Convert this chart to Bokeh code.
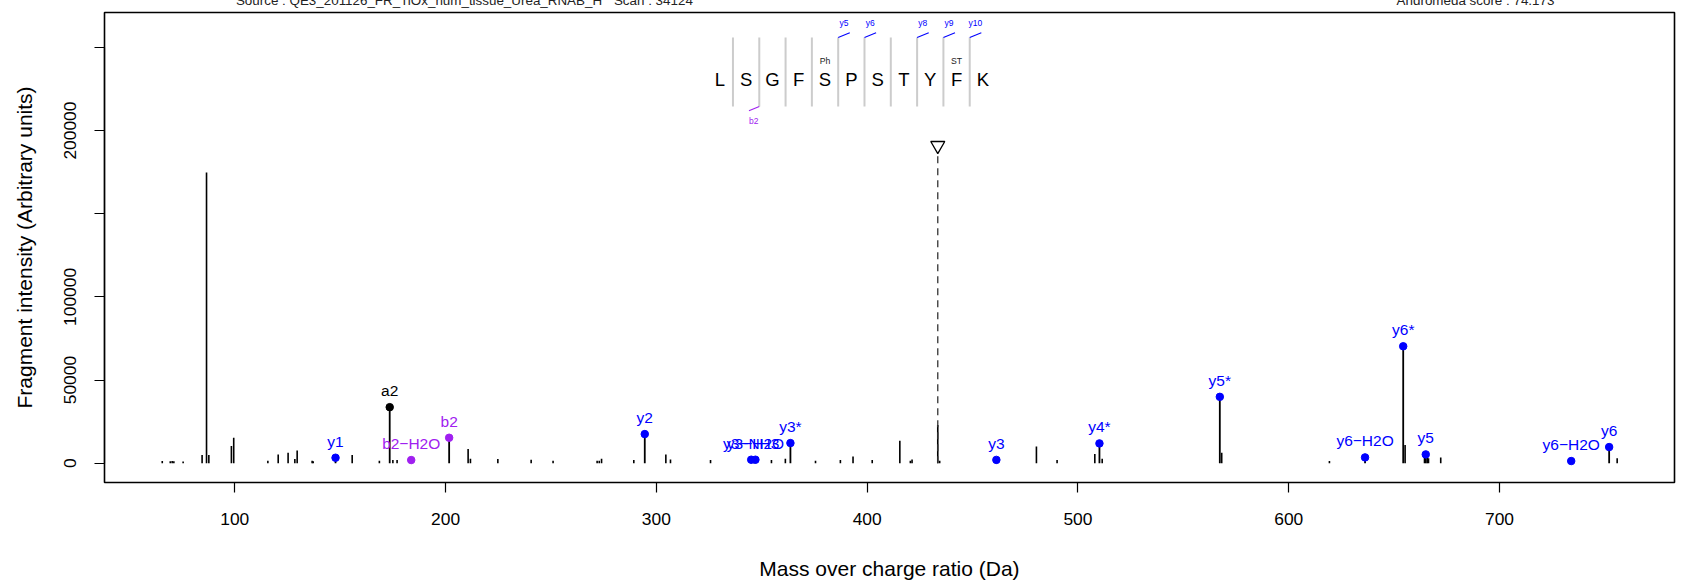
from bokeh.plotting import figure
from bokeh.models import Range1d, FixedTicker, LinearAxis, ColumnDataSource
from bokeh.core.properties import value
from bokeh.embed import file_html
from bokeh.resources import INLINE

# ---------------- data ----------------
# unannotated fragment peaks
peak_mz = [65.6, 69.4, 70.3, 71.1, 75.5, 84.5, 86.6, 87.7, 98.4, 99.5,
           115.7, 120.6, 125.3, 128.5, 129.6, 136.7, 137.2, 155.7, 168.6, 175.0,
           177.0, 210.7, 211.8, 224.8, 240.6, 251.0, 271.9, 272.9, 274.0, 289.3,
           304.5, 306.7, 325.7, 346.2, 354.6, 361.2, 375.5, 387.3, 393.3, 402.4,
           415.5, 420.5, 421.3, 433.5, 434.4, 480.3, 490.1, 508.0, 511.5, 568.2,
           619.3, 655.2, 664.4, 665.7, 666.3, 672.1, 755.8]
peak_int = [1300, 1200, 1300, 1200, 1000, 4900, 174800, 4900, 10300, 15300,
            1500, 5300, 6300, 2500, 7700, 1500, 1200, 4900, 1500, 1900,
            1900, 8500, 2700, 2500, 2100, 1500, 1500, 1500, 2700, 1900,
            5300, 2300, 1900, 2300, 1900, 2700, 1500, 1900, 4100, 1900,
            13500, 1500, 2300, 22900, 1500, 10100, 1900, 5500, 2700, 6300,
            1300, 10900, 4000, 3500, 3000, 3500, 3000]

# annotated fragment peaks
ann_label = ["y1", "a2", "b2\u2212H2O", "b2", "y2", "y3\u2212NH3", "y3\u2212H2O", "y3*",
             "y3", "y4*", "y5*", "y6\u2212H2O", "y6*", "y5", "y6\u2212H2O", "y6"]
ann_mz = [147.8, 173.5, 183.7, 201.7, 294.5, 345.0, 347.0, 363.6,
          461.3, 510.2, 567.3, 636.2, 654.3, 665.0, 734.0, 752.0]
ann_int = [3300, 33700, 1900, 15300, 17500, 2100, 2100, 12100,
           2000, 11900, 39900, 3500, 70300, 5300, 1300, 9700]
ann_type = ["y", "a", "b", "b", "y", "y", "y", "y",
            "y", "y", "y", "y", "y", "y", "y", "y"]

precursor_mz = 433.5
precursor_marker_int = 191000

sequence = ["L", "S", "G", "F", "S", "P", "S", "T", "Y", "F", "K"]
modifications = {4: "Ph", 9: "ST"}      # residue index -> label
y_cleavages = [5, 6, 8, 9, 10]           # separator index carrying y ions
b_cleavages = [2]

header_texts = ["Source : QE3_201126_FR_TiOx_hum_tissue_Urea_RNAB_H",
                "Scan : 34124",
                "Andromeda score : 74.173"]
header_pos = [187.4, 298.6, 688.6]   # text centres (Da)

x_ticks = [100, 200, 300, 400, 500, 600, 700]
y_ticks = [0, 50000, 100000, 150000, 200000, 250000]
y_tick_labels = ["0", "50000", "100000", "", "200000", ""]

# ---------------- styling ----------------
FONT = "Liberation Sans"
COL = {"y": "#0000FF", "b": "#A020F0", "a": "#000000"}

p = figure(width=1685, height=588, output_backend="svg", toolbar_location=None,
           x_range=Range1d(38.2, 783.0), y_range=Range1d(-11600, 271000),
           min_border_left=104, min_border_right=11, min_border_top=12,
           min_border_bottom=106)
p.background_fill_color = "white"
p.border_fill_color = "white"
p.outline_line_color = "black"
p.outline_line_width = 1.6
p.grid.visible = False

p.xaxis.ticker = FixedTicker(ticks=x_ticks)
p.yaxis.ticker = FixedTicker(ticks=y_ticks)
p.xaxis.major_label_overrides = {t: str(t) for t in x_ticks}
p.yaxis.major_label_overrides = {t: l for t, l in zip(y_ticks, y_tick_labels)}
p.xaxis.bounds = (x_ticks[0], x_ticks[-1])
p.yaxis.bounds = (y_ticks[0], y_ticks[-1])
p.yaxis.major_label_orientation = "vertical"
p.xaxis.axis_label = "Mass over charge ratio (Da)"
p.yaxis.axis_label = "Fragment intensity (Arbitrary units)"
for ax in (p.xaxis, p.yaxis):
    ax.major_tick_out = 10
    ax.major_tick_in = 0
    ax.minor_tick_out = 0
    ax.minor_tick_in = 0
    ax.major_tick_line_width = 1.2
    ax.axis_line_width = 1.2
    ax.major_label_text_font = FONT
    ax.major_label_text_font_size = "17.4px"
    ax.major_label_text_color = "black"
    ax.axis_label_text_font = FONT
    ax.axis_label_text_font_size = "21px"
    ax.axis_label_text_font_style = "normal"
    ax.axis_label_text_color = "black"
p.xaxis.major_label_standoff = 20
p.xaxis.axis_label_standoff = 29
p.yaxis.major_label_standoff = 18
p.yaxis.axis_label_standoff = 26

# header texts drawn as labels of a bare axis above the frame
hdr_axis = LinearAxis(ticker=FixedTicker(ticks=header_pos),
                      major_label_overrides={t: s for t, s in zip(header_pos, header_texts)},
                      axis_line_color=None, major_tick_line_color=None,
                      minor_tick_line_color=None, major_tick_out=0, major_tick_in=0,
                      minor_tick_out=0, minor_tick_in=0, major_label_standoff=5,
                      major_label_text_font=FONT, major_label_text_font_size="13.4px",
                      major_label_text_color="#222222",
                      axis_label=" ", axis_label_standoff=-30,
                      axis_label_text_font_size="8px", axis_label_text_color="white")
p.add_layout(hdr_axis, "above")

# stems of all peaks
p.segment(x0=peak_mz, y0=[0] * len(peak_mz), x1=peak_mz, y1=peak_int,
          line_color="black", line_width=1.6)
p.segment(x0=ann_mz, y0=[0] * len(ann_mz), x1=ann_mz, y1=ann_int,
          line_color="black", line_width=1.8)

# precursor
p.segment(x0=[precursor_mz], y0=[0], x1=[precursor_mz], y1=[precursor_marker_int - 4500],
          line_color="#333333", line_width=1.3, line_dash="7 5")
p.scatter(x=[precursor_mz], y=[precursor_marker_int], marker="inverted_triangle",
          size=14, fill_color="white", line_color="black", line_width=1.3)

ann_src = ColumnDataSource(dict(mz=ann_mz, inten=ann_int, label=ann_label,
                                color=[COL[t] for t in ann_type]))
p.scatter(x="mz", y="inten", source=ann_src, size=7.5, fill_color="color",
          line_color="color")
p.text(x="mz", y="inten", text="label", source=ann_src, text_color="color",
       text_align="center", text_baseline="middle", y_offset=-16.5,
       text_font=value(FONT), text_font_size="15.5px")

# ---------------- peptide diagram ----------------
seq_x0 = 330.1     # Da, centre of first residue
seq_step = 12.48   # Da between residues
seq_y = 231000
sep_top, sep_bot = 256000, 214500
n = len(sequence)
letter_x = [seq_x0 + i * seq_step for i in range(n)]
p.text(x=letter_x, y=[seq_y] * n, text=sequence, text_align="center",
       text_baseline="middle", text_color="black", text_font=value(FONT),
       text_font_size="18.5px")
sep_x = [seq_x0 + (k - 0.5) * seq_step for k in range(1, n)]
p.segment(x0=sep_x, y0=[sep_bot] * len(sep_x), x1=sep_x, y1=[sep_top] * len(sep_x),
          line_color="#CCCCCC", line_width=2)
mod_idx = list(modifications.keys())
p.text(x=[letter_x[i] for i in mod_idx], y=[241700] * len(mod_idx),
       text=[modifications[i] for i in mod_idx], text_align="center",
       text_baseline="middle", text_color="#222222", text_font=value(FONT),
       text_font_size="8.7px")
yx = [sep_x[k - 1] for k in y_cleavages]
p.segment(x0=yx, y0=[sep_top] * len(yx), x1=[x + 5.5 for x in yx],
          y1=[sep_top + 2800] * len(yx), line_color=COL["y"], line_width=1.1)
p.text(x=[x + 2.7 for x in yx], y=[264600] * len(yx),
       text=["y%d" % k for k in y_cleavages], text_align="center",
       text_baseline="middle", text_color=COL["y"], text_font=value(FONT),
       text_font_size="8.5px")
bx = [sep_x[k - 1] for k in b_cleavages]
p.segment(x0=bx, y0=[sep_bot] * len(bx), x1=[x - 4.9 for x in bx],
          y1=[sep_bot - 2600] * len(bx), line_color=COL["b"], line_width=1.1)
p.text(x=[x - 2.6 for x in bx], y=[206000] * len(bx),
       text=["b%d" % k for k in b_cleavages], text_align="center",
       text_baseline="middle", text_color=COL["b"], text_font=value(FONT),
       text_font_size="8.5px")

open("out.html", "w").write(file_html(p, INLINE))
